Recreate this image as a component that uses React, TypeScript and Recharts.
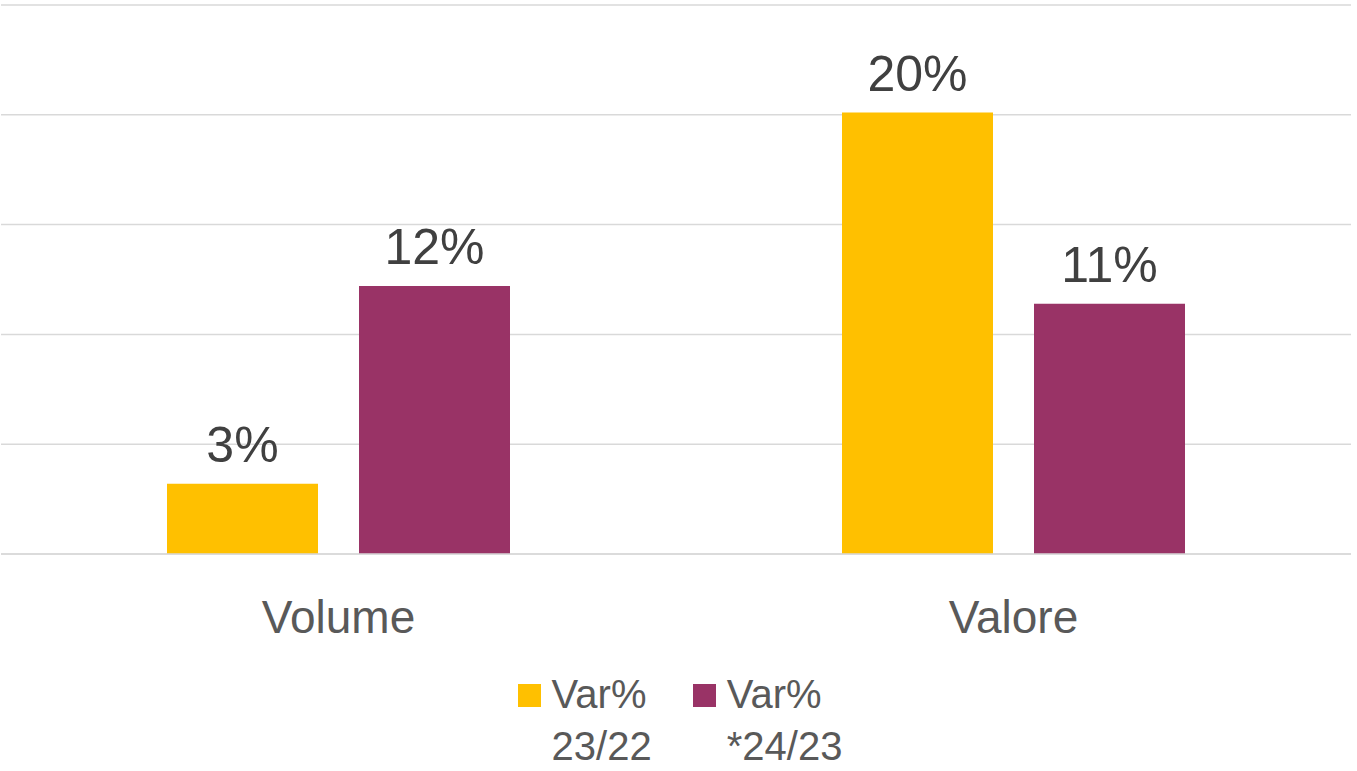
import { Bar, BarChart, CartesianGrid, LabelList, Legend, XAxis, YAxis } from 'recharts';

const categories = ['Volume', 'Valore'];
const var2322 = [3.2, 20.1];
const var2423 = [12.2, 11.4];
const yTicks = [0, 5, 10, 15, 20, 25];

const series = [
  { key: 'v2322', name: 'Var% 23/22', color: '#FFC000', values: var2322 },
  { key: 'v2423', name: 'Var% *24/23', color: '#993366', values: var2423 },
];

const data = categories.map((cat, i) => {
  const row: Record<string, number | string> = { cat };
  series.forEach((s) => (row[s.key] = s.values[i]));
  return row;
});

const FONT = '"Liberation Sans", Arial, sans-serif';

function LegendBox() {
  return (
    <div style={{ height: 110, display: 'flex', justifyContent: 'center', gap: 41, paddingTop: 7, boxSizing: 'border-box', paddingLeft: 8 }}>
      {series.map((s) => {
        const [first, ...rest] = s.name.split(' ');
        return (
          <div key={s.key} style={{ display: 'flex', alignItems: 'flex-start' }}>
            <div style={{ width: 23, height: 23, background: s.color, marginTop: 16, marginRight: 11 }} />
            <div style={{ fontFamily: FONT, fontSize: 40, lineHeight: '52px', color: '#595959', textAlign: 'left' }}>
              <div>{first}</div>
              <div>{rest.join(' ')}</div>
            </div>
          </div>
        );
      })}
    </div>
  );
}

export default function App() {
  return (
    <div style={{ position: 'absolute', left: 0, top: 0, background: '#fff' }}>
      <BarChart width={1357} height={771} data={data} margin={{ top: 5, right: 6, left: 1, bottom: 0 }} barGap={41}>
        <CartesianGrid vertical={false} stroke="#d9d9d9" strokeWidth={1.5} />
        <YAxis hide domain={[0, 25]} ticks={yTicks} />
        <XAxis
          dataKey="cat"
          height={107}
          tickSize={0}
          tickMargin={46}
          axisLine={{ stroke: '#d9d9d9', strokeWidth: 1.5 }}
          tick={{ fill: '#595959', fontSize: 46, fontFamily: FONT }}
        />
        <Legend verticalAlign="bottom" content={() => <LegendBox />} />
        {series.map((s) => (
          <Bar key={s.key} dataKey={s.key} name={s.name} fill={s.color} barSize={151} isAnimationActive={false}>
            <LabelList
              dataKey={s.key}
              position="top"
              offset={22}
              formatter={(v: number) => `${Math.round(v)}%`}
              style={{ fill: '#404040', fontSize: 50, fontFamily: FONT }}
            />
          </Bar>
        ))}
      </BarChart>
    </div>
  );
}
